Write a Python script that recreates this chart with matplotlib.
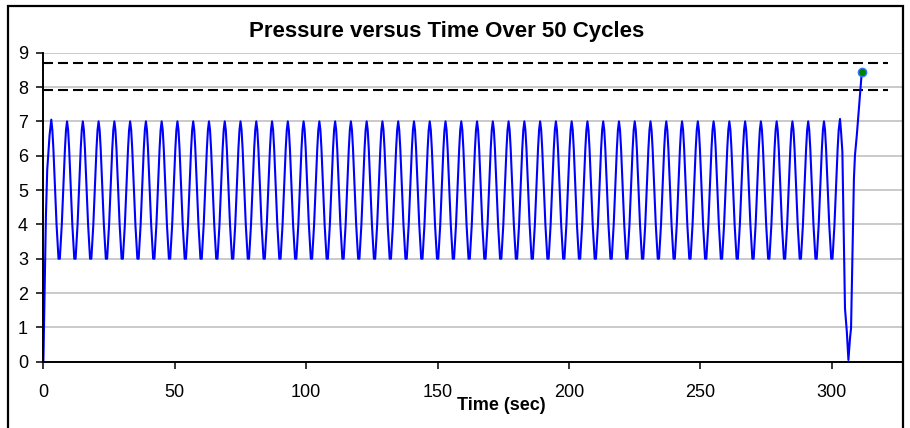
import numpy as np
import matplotlib
matplotlib.use("Agg")
import matplotlib.pyplot as plt
from matplotlib.patches import Rectangle

# ---------------- data ----------------
# start-up ramp and first cycle
start_t = [0.0, 0.95, 1.45, 2.35, 3.0, 3.4, 3.8, 5.0, 5.4, 5.75]
start_p = [0.0, 4.22, 5.58, 6.6, 7.05, 6.75, 6.2, 4.0, 3.45, 3.0]
# one regular pressure cycle (time offset from the trough, pressure)
cycle_offset = [0.25, 0.6, 1.0, 2.2, 2.6, 3.0, 3.4, 3.8, 5.0, 5.4, 5.75]
cycle_p = [3.0, 3.45, 4.0, 6.2, 6.75, 7.0, 6.75, 6.2, 4.0, 3.45, 3.0]
cycle_period = 6.0
n_regular_cycles = 49
# last cycle, vent and final pressurisation
end_t = [300.25, 300.6, 301.0, 302.2, 302.6, 303.1, 303.5, 304.0, 305.0,
         305.7, 306.3, 306.9, 307.3, 308.4, 308.8, 309.5, 310.3, 310.7, 311.4]
end_p = [3.0, 3.45, 4.0, 6.2, 6.75, 7.07, 6.7, 6.12, 1.55,
         0.87, 0.05, 0.68, 0.97, 5.34, 6.02, 6.6, 7.38, 7.77, 8.45]
# limit lines
upper_limit = 8.7
lower_limit = 7.9
limit_t = [0.0, 321.5]

x_ticks = [0, 50, 100, 150, 200, 250, 300]
y_ticks = [0, 1, 2, 3, 4, 5, 6, 7, 8, 9]
title = "Pressure versus Time Over 50 Cycles"
x_label = "Time (sec)"

# ---------------- build series ----------------
t_parts = [np.array(start_t)]
p_parts = [np.array(start_p)]
for j in range(1, n_regular_cycles + 1):
    t_parts.append(cycle_period * j + np.array(cycle_offset))
    p_parts.append(np.array(cycle_p))
t_parts.append(np.array(end_t))
p_parts.append(np.array(end_p))
t = np.concatenate(t_parts)
p = np.concatenate(p_parts)

# ---------------- figure ----------------
W, H = 910, 428
plt.rcParams["font.family"] = ["Liberation Sans", "DejaVu Sans"]
fig = plt.figure(figsize=(W / 100, H / 100), dpi=100)
fig.patch.set_facecolor("white")

# outer chart frame
fig.add_artist(Rectangle((8 / W, -0.1), (903 - 8) / W, 1.1 - 6 / H,
                         transform=fig.transFigure, fill=False,
                         edgecolor="black", linewidth=1.6, clip_on=False))

left, right, top, bottom = 43.4, 901.5, 52.7, 361.7
ax = fig.add_axes([left / W, 1 - bottom / H, (right - left) / W, (bottom - top) / H])

ax.set_xlim(0, 326.5)
ax.set_ylim(0, 9)
ax.set_xticks(x_ticks)
ax.set_yticks(y_ticks)
ax.yaxis.grid(True, color="#c6c6c6", linewidth=1.3)
ax.set_axisbelow(True)
for s in ["top", "right"]:
    ax.spines[s].set_visible(False)
for s in ["left", "bottom"]:
    ax.spines[s].set_linewidth(1.4)
    ax.spines[s].set_color("black")
ax.tick_params(axis="both", direction="out", length=5, width=1.1,
               labelsize=13, colors="black")
ax.tick_params(axis="y", pad=6)
ax.tick_params(axis="x", pad=11)

for lim in (upper_limit, lower_limit):
    ax.plot(limit_t, [lim, lim], color="black", linewidth=1.5,
            dashes=(4.8, 2.4), clip_on=False)

ax.plot(t, p, color="#0000ff", linewidth=1.5, clip_on=False)
ax.plot([t[-1]], [p[-1]], marker="o", markersize=6, color="#008000",
        markeredgecolor="#3377ff", markeredgewidth=1.0, clip_on=False)

fig.text(447 / W, 1 - 31 / H, title, ha="center", va="center",
         fontsize=16, fontweight="bold")
fig.text(501 / W, 1 - 405 / H, x_label, ha="center", va="center",
         fontsize=13, fontweight="bold")

fig.savefig("out.png", dpi=100)
